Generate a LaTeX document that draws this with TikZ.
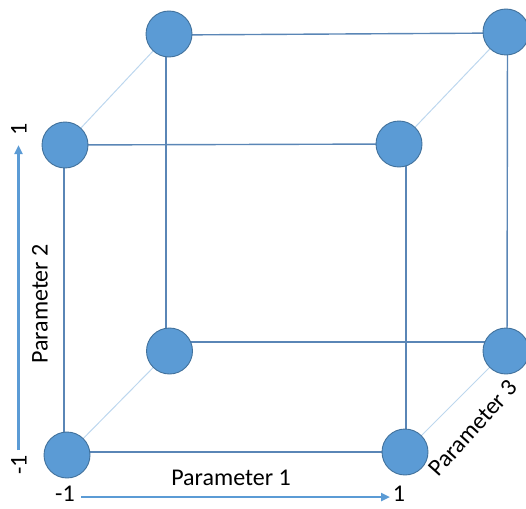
\documentclass[tikz,border=0pt]{standalone}
\usepackage{fontspec}
\setmainfont{Carlito}
\usetikzlibrary{arrows.meta}
\pgfdeclarelayer{bg}
\pgfsetlayers{bg,main}
\definecolor{ballfill}{HTML}{5B9BD5}
\definecolor{ballline}{HTML}{41719C}
\definecolor{edgecol}{HTML}{5A86B6}
\definecolor{diagcol}{HTML}{BDD7EE}
\definecolor{axiscol}{HTML}{5B9BD5}
\tikzset{
  ball/.style={circle, fill=ballfill, draw=ballline, line width=0.9pt, minimum size=46pt, inner sep=0pt},
  edge/.style={draw=edgecol, line width=1.4pt},
  diag/.style={draw=diagcol, line width=1pt},
  axis/.style={draw=axiscol, line width=2.8pt, -{Triangle[length=9pt,width=8pt]}},
  lbl/.style={font=\fontsize{24}{26}\selectfont, text=black, inner sep=0pt}
}
\begin{document}
\begin{tikzpicture}[x=1pt,y=-1pt]
\useasboundingbox (0,0) rectangle (526,508);
% front square
\node[ball] (ftl) at (65,145) {};
\node[ball] (ftr) at (399,144) {};
\node[ball] (fbl) at (67,455) {};
\node[ball] (fbr) at (405,452) {};
% back square
\node[ball] (btl) at (169,34) {};
\node[ball] (btr) at (506,32) {};
\node[ball] (bbl) at (169.5,351) {};
\node[ball] (bbr) at (506,351) {};
\begin{pgfonlayer}{bg}
% edges
\draw[edge] (ftl.center) -- (ftr.center);
\draw[edge] ([yshift=3pt]fbl.center) -- (fbr.center);
\draw[edge] ([xshift=-1pt]ftl.center) -- ([xshift=-3pt]fbl.center);
\draw[edge] ([xshift=7pt]ftr.center) -- ([xshift=1pt]fbr.center);
\draw[edge] ([yshift=-1pt]btl.center) -- ([yshift=-1pt]btr.center);
\draw[edge] ([yshift=9pt]bbl.center) -- ([yshift=9pt]bbr.center);
\draw[edge] ([xshift=-3pt]btl.center) -- ([xshift=-3.5pt]bbl.center);
\draw[edge] ([xshift=1.5pt]btr.center) -- ([xshift=1pt]bbr.center);
% depth diagonals
\draw[diag] (ftl.center) -- (btl.center);
\draw[diag] (ftr.center) -- (btr.center);
\draw[diag] (fbl.center) -- (bbl.center);
\draw[diag] (fbr.center) -- (bbr.center);
\end{pgfonlayer}
% axis 2
\coordinate (a2s) at (18.5,450);
\coordinate (a2e) at (18.5,145);
\draw[axis] (a2s) -- (a2e);
\node[lbl, rotate=90] (a2hi) at (19,129) {1};
\node[lbl, rotate=90] (a2lo) at (19,465) {-1};
\node[lbl, rotate=90] (p2) at (40,304) {Parameter 2};
% axis 1
\coordinate (a1s) at (81,497);
\coordinate (a1e) at (390,497);
\draw[axis] (a1s) -- (a1e);
\node[lbl] (a1lo) at (65,494) {-1};
\node[lbl] (a1hi) at (399,494) {1};
\node[lbl] (p1) at (231,478) {Parameter 1};
% axis 3 label
\node[lbl, rotate=48] (p3) at (473,428) {Parameter 3};
\end{tikzpicture}
\end{document}
